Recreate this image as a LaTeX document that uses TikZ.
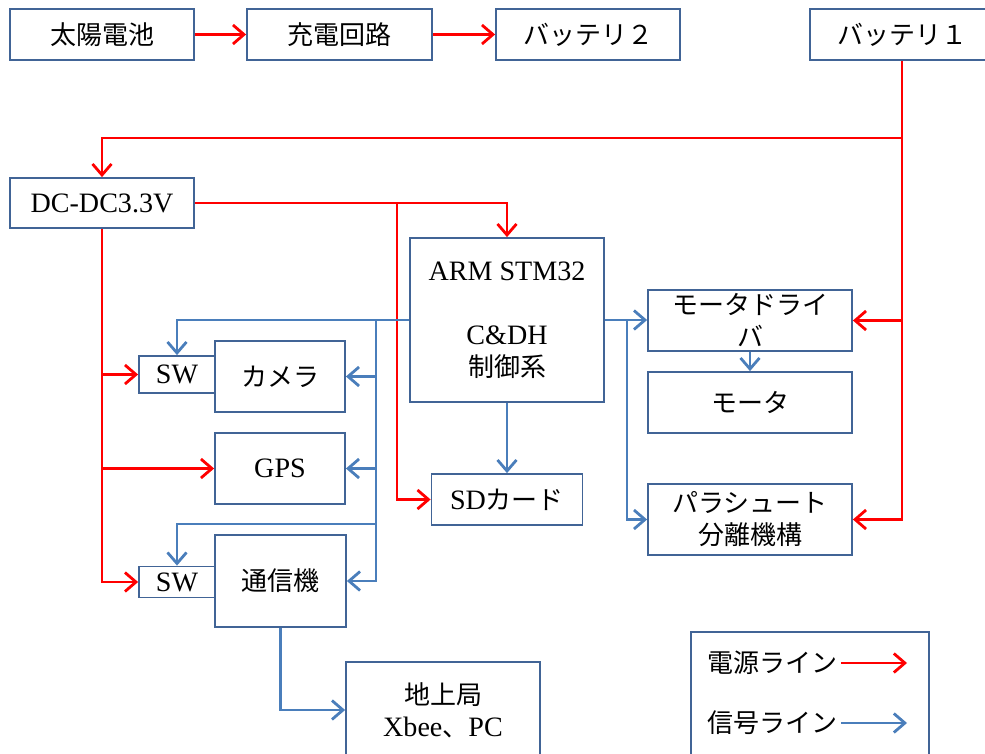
\documentclass[tikz,border=0pt]{standalone}
\usepackage{fontspec}
\newfontfamily\jp{Noto Sans CJK JP}
\newfontfamily\lat{Liberation Serif}[Scale=1.08]
\usetikzlibrary{arrows.meta}
\definecolor{boxcol}{RGB}{65,100,150}
\definecolor{sigcol}{RGB}{74,126,187}

\begin{document}
\begin{tikzpicture}[x=1pt,y=-1pt]
    \tikzstyle{block} = [rectangle, draw=boxcol, line width=1.8pt, align=center, inner sep=0pt, font=\fontsize{26}{32}\selectfont\lat]
    \tikzstyle{lbl} = [inner sep=0pt, font=\fontsize{26}{32}\selectfont\jp]
    \tikzstyle{pwr} = [red, line width=2.8pt, ->, >={Straight Barb[length=11pt,width=19pt]}]
    \tikzstyle{sig} = [sigcol, line width=2.8pt, ->, >={Straight Barb[length=11pt,width=19pt]}]

    \useasboundingbox (0,0) rectangle (985,754);

    % top row
    \node (solar) [block, minimum width=184pt, minimum height=51pt] at (102,34.5) {\jp 太陽電池};
    \node (charger) [block, minimum width=185pt, minimum height=51pt] at (339.5,34.5) {\jp 充電回路};
    \node (batt2) [block, minimum width=184pt, minimum height=51pt] at (588,34.5) {\jp バッテリ２};
    \node (batt1) [block, minimum width=184pt, minimum height=51pt] at (902,34.5) {\jp バッテリ１};
    \node (dcdc) [block, minimum width=184pt, minimum height=50pt] at (102,203) {DC-DC3.3V};

    % controller and right side
    \node (arm) [block, minimum width=194pt, minimum height=164pt] at (507,320) {ARM STM32\\\mbox{}\\C\&DH\\{\jp 制御系}};
    \node (sd) [block, minimum width=151pt, minimum height=51pt] at (507,499.5) {SD{\jp カード}};
    \node (mdrv) [block, minimum width=204pt, minimum height=61pt] at (750,320.5) {\jp モータドライ\\\jp バ};
    \node (motor) [block, minimum width=204pt, minimum height=61pt] at (750,402.5) {\jp モータ};
    \node (para) [block, minimum width=204pt, minimum height=71pt] at (750,519.5) {\jp パラシュート\\\jp 分離機構};

    % left side
    \node (cam) [block, minimum width=130pt, minimum height=71pt] at (280,376.5) {\jp カメラ};
    \node (sw1) [block, minimum width=76pt, minimum height=37pt] at (177,374.5) {SW};
    \node (gps) [block, minimum width=130pt, minimum height=71pt] at (280,468.5) {GPS};
    \node (comm) [block, minimum width=131pt, minimum height=92pt] at (280.5,581) {\jp 通信機};
    \node (sw2) [block, minimum width=76pt, minimum height=31pt] at (177,582) {SW};
    \node (ground) [block, minimum width=194pt, minimum height=96pt] at (443,710) {{\jp 地上局}\\Xbee{\jp 、}PC};

    % legend
    \node (legend) [block, minimum width=238pt, minimum height=126pt] at (810,695) {};
    \node (lpwr) [lbl] at (772,663) {電源ライン};
    \node (lsig) [lbl] at (772,723) {信号ライン};
    \coordinate (lpwrend) at (907,663);
    \coordinate (lsigend) at (907,723);

    % junctions
    \coordinate (pbus) at (902,138);
    \coordinate (pbus2) at (397,203);
    \coordinate (sbus) at (376,320);
    \coordinate (sbus2) at (376,524);
    \coordinate (sbus3) at (627,320);

    % power lines
    \draw [pwr] (solar) -- (charger);
    \draw [pwr] (charger) -- (batt2);
    \draw [pwr] (batt1.south) |- (para.east);
    \draw [pwr] (batt1.south |- mdrv.east) -- (mdrv.east);
    \draw [pwr] (pbus) -| (dcdc.north);
    \draw [pwr] (dcdc.east) -| (arm.north);
    \draw [pwr] (pbus2) |- (sd.west);
    \draw [pwr] (dcdc.south) |- (sw2.west);
    \draw [pwr] (dcdc.south |- sw1.west) -- (sw1.west);
    \draw [pwr] (dcdc.south |- gps.west) -- (gps.west);

    % signal lines
    \draw [sig] (arm.east) -- (arm.east -| mdrv.west);
    \draw [sig] (sbus3) |- (para.west);
    \draw [sig] (mdrv.south) -- (motor.north);
    \draw [sig] (arm.south) -- (sd.north);
    \draw [sig] (arm.west) -| (sw1.north);
    \draw [sig] (sbus) |- (comm.east);
    \draw [sig] (sbus |- cam.east) -- (cam.east);
    \draw [sig] (sbus |- gps.east) -- (gps.east);
    \draw [sig] (sbus2) -| (sw2.north);
    \draw [sig] (comm.south) |- (ground.west);

    \draw [pwr] (lpwr.east) ++(4,0) -- (lpwrend);
    \draw [sig] (lsig.east) ++(4,0) -- (lsigend);
\end{tikzpicture}
\end{document}
